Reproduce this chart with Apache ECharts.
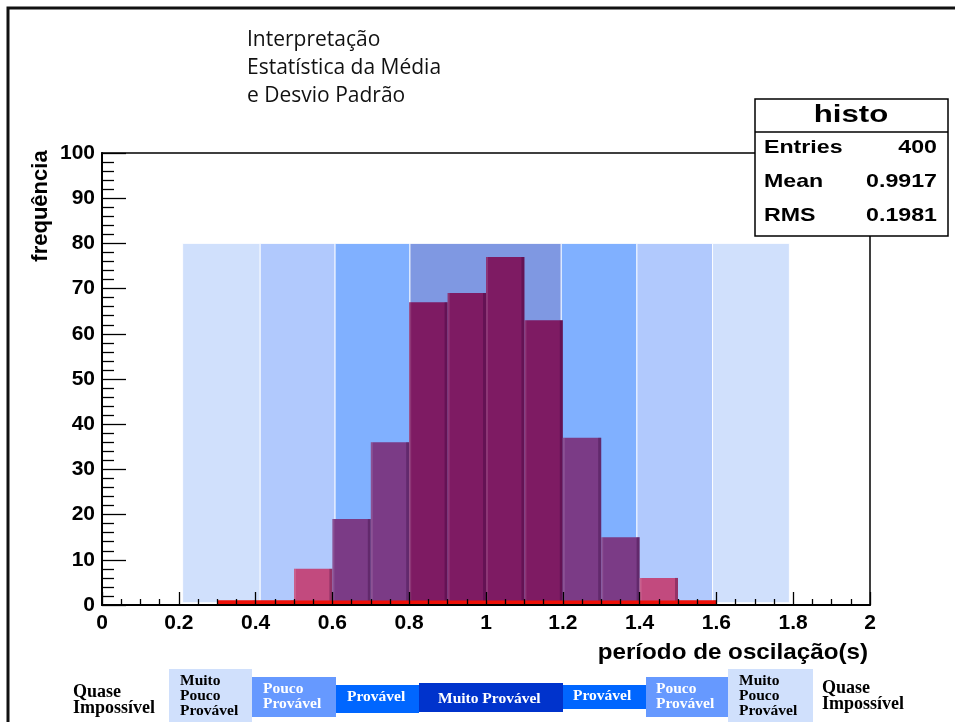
<!DOCTYPE html>
<html>
<head>
<meta charset="utf-8">
<script src="https://cdn.jsdelivr.net/npm/echarts@6/dist/echarts.min.js"></script>
<style>
html,body{margin:0;padding:0;background:#fff;}
#chart{width:955px;height:722px;}
</style>
</head>
<body>
<div id="chart"></div>
<script>
// ---------- data ----------
const xTickLabels = ['0','0.2','0.4','0.6','0.8','1','1.2','1.4','1.6','1.8','2'];
const yTickLabels = ['0','10','20','30','40','50','60','70','80','90','100'];
const binStarts = [0.3,0.4,0.5,0.6,0.7,0.8,0.9,1.0,1.1,1.2,1.3,1.4,1.5];
const binWidth = 0.1;
const counts = [1,1,8,19,36,67,69,77,63,37,15,6,1];
const bandEdges = [0.21,0.412,0.607,0.802,1.196,1.393,1.59,1.79];
const bandLevels = [0,1,2,3,2,1,0];
const bandTop = 80;
const underflowStrip = [0.3,1.6,1];
const titleLines = ['Interpretação','Estatística da Média','e Desvio Padrão'];
const statsTitle = 'histo';
const statsLabels = ['Entries','Mean','RMS'];
const statsValues = ['400','0.9917','0.1981'];
const xAxisTitle = 'período de oscilação(s)';
const yAxisTitle = 'frequência';
const scaleLabels = ['Quase\nImpossível','Muito\nPouco\nProvável','Pouco\nProvável','Provável','Muito Provável','Provável','Pouco\nProvável','Muito\nPouco\nProvável','Quase\nImpossível'];

// ---------- styles ----------
const bandColors = ['#d0e0fc','#b1c9fd','#80b0ff','#7f98e2'];
const barColors = ['#ee1008','#c24a7e','#7b3b86','#7e1b63'];
const stripColor = '#ee1008';

function bandIndexOf(x){
  for(let i=0;i<bandEdges.length-1;i++){ if(x>=bandEdges[i] && x<bandEdges[i+1]) return i; }
  return -1;
}
function barColor(i){
  if(counts[i] <= 1) return barColors[0];
  const b = bandIndexOf(binStarts[i] + binWidth/2);
  const lvl = b < 0 ? 0 : bandLevels[b];
  return barColors[Math.max(1,lvl)];
}

const bandData = bandLevels.map((l,i)=>[bandEdges[i], bandEdges[i+1], bandTop, l]);
const histData = binStarts.map((s,i)=>[s, s+binWidth, counts[i], i]);

const chart = echarts.init(document.getElementById('chart'), null, {renderer:'canvas'});

const AX = '"Liberation Sans", Arial, Helvetica, sans-serif';
const SERIF = '"Liberation Serif", "Times New Roman", serif';

// graphic elements
const graphics = [];
graphics.push({type:'polyline', shape:{points:[[8,722],[8,8],[955,8]]}, style:{stroke:'#111', lineWidth:3, fill:null}, z:100});
titleLines.forEach((t,i)=>{
  graphics.push({type:'text', x:247, y:40.5+i*28, style:{text:t, font:'21px "Open Sans", "Noto Sans", sans-serif', fill:'#111', align:'left', verticalAlign:'middle'}, z:100});
});
graphics.push({type:'text', x:41, y:206, rotation:Math.PI/2, style:{text:yAxisTitle, font:'bold 22px '+AX, fill:'#000', align:'center', verticalAlign:'middle'}, z:100});
graphics.push({type:'text', x:868, y:653, scaleX:1.1, style:{text:xAxisTitle, font:'bold 22px '+AX, fill:'#000', align:'right', verticalAlign:'middle'}, z:100});
// stats box
graphics.push({type:'rect', shape:{x:755, y:99, width:193, height:137}, style:{fill:'#fff', stroke:'#000', lineWidth:1.5}, z:100});
graphics.push({type:'line', shape:{x1:755, y1:132, x2:948, y2:132}, style:{stroke:'#000', lineWidth:1.5}, z:101});
graphics.push({type:'text', x:851, y:115, scaleX:1.3, style:{text:statsTitle, font:'bold 24px '+AX, fill:'#000', align:'center', verticalAlign:'middle'}, z:101});
statsLabels.forEach((l,i)=>{
  const y = 148 + i*34;
  graphics.push({type:'text', x:764, y:y, scaleX:1.22, style:{text:l, font:'bold 19px '+AX, fill:'#000', align:'left', verticalAlign:'middle'}, z:101});
  graphics.push({type:'text', x:937, y:y, scaleX:1.22, style:{text:statsValues[i], font:'bold 19px '+AX, fill:'#000', align:'right', verticalAlign:'middle'}, z:101});
});
// bottom probability scale
const scaleBoxes = [
  {x0:null, x1:null, y0:0, y1:0, fill:null, tx:73, ty:700, color:'#000', lh:16, fs:18},
  {x0:169, x1:252, y0:669, y1:722, fill:'#d0e0fc', tx:180, ty:696, color:'#000', lh:15, fs:15.5},
  {x0:252, x1:336, y0:677, y1:717, fill:'#6699ff', tx:263, ty:696, color:'#fff', lh:15, fs:15.5},
  {x0:336, x1:419, y0:685, y1:713, fill:'#0066ff', tx:347, ty:697, color:'#fff', lh:15, fs:15.5},
  {x0:419, x1:563, y0:683, y1:712, fill:'#0033cc', tx:438, ty:699, color:'#fff', lh:15, fs:15.5},
  {x0:563, x1:646, y0:685, y1:709, fill:'#0066ff', tx:573, ty:696, color:'#fff', lh:15, fs:15.5},
  {x0:646, x1:728, y0:677, y1:717, fill:'#6699ff', tx:656, ty:696, color:'#fff', lh:15, fs:15.5},
  {x0:728, x1:813, y0:669, y1:722, fill:'#d0e0fc', tx:739, ty:696, color:'#000', lh:15, fs:15.5},
  {x0:null, x1:null, y0:0, y1:0, fill:null, tx:822, ty:696, color:'#000', lh:16, fs:18}
];
scaleBoxes.forEach((b,i)=>{
  if(b.fill){
    graphics.push({type:'rect', shape:{x:b.x0, y:b.y0, width:b.x1-b.x0, height:b.y1-b.y0}, style:{fill:b.fill}, z:100});
  }
  graphics.push({type:'text', x:b.tx, y:b.ty, style:{text:scaleLabels[i], font:'bold '+b.fs+'px '+SERIF, fill:b.color, align:'left', verticalAlign:'middle', lineHeight:b.lh}, z:101});
});

const option = {
  animation:false,
  backgroundColor:'#fff',
  grid:{left:102, right:85, top:153, bottom:117, show:true, borderColor:'#000', borderWidth:1.5, backgroundColor:'transparent'},
  xAxis:{
    type:'value', min:0, max:2, interval:0.2, z:10,
    axisLine:{show:true, onZero:false, lineStyle:{color:'#000', width:2}},
    axisTick:{show:true, inside:true, length:13, lineStyle:{color:'#000', width:1.3}},
    minorTick:{show:true, splitNumber:4, length:6, lineStyle:{color:'#000', width:1.3}},
    splitLine:{show:false},
    axisLabel:{margin:8, color:'#000', fontFamily:'Liberation Sans', fontWeight:'bold', fontSize:21,
      formatter:(v)=>xTickLabels[Math.round(v/0.2)]}
  },
  yAxis:{
    type:'value', min:0, max:100, interval:10, z:10,
    axisLine:{show:true, lineStyle:{color:'#000', width:2}},
    axisTick:{show:true, inside:true, length:24, lineStyle:{color:'#000', width:1.3}},
    minorTick:{show:true, splitNumber:5, length:12, lineStyle:{color:'#000', width:1.3}},
    splitLine:{show:false},
    axisLabel:{margin:7, color:'#000', fontFamily:'Liberation Sans', fontWeight:'bold', fontSize:21,
      formatter:(v)=>yTickLabels[Math.round(v/10)]}
  },
  series:[
    {
      type:'custom', name:'bands', z:1, silent:true,
      data:bandData, encode:{x:[0,1], y:2},
      renderItem:(params, api)=>{
        const p0 = api.coord([api.value(0), 0.5]);
        const p1 = api.coord([api.value(1), api.value(2)]);
        return {type:'rect', shape:{x:p0[0], y:p1[1], width:p1[0]-p0[0], height:p0[1]-p1[1]},
          style:{fill:bandColors[api.value(3)], stroke:'rgba(255,255,255,0.85)', lineWidth:1}};
      }
    },
    {
      type:'custom', name:'histo', z:2, silent:true,
      data:histData, encode:{x:[0,1], y:2},
      renderItem:(params, api)=>{
        const p0 = api.coord([api.value(0), 0]);
        const p1 = api.coord([api.value(1), api.value(2)]);
        const w = p1[0]-p0[0], h = p0[1]-p1[1];
        const c = barColor(api.value(3));
        return {type:'group', children:[
          {type:'rect', shape:{x:p0[0], y:p1[1], width:w, height:h}, style:{fill:c}},
          {type:'rect', shape:{x:p0[0], y:p1[1], width:2, height:h}, style:{fill:'rgba(255,255,255,0.12)'}},
          {type:'rect', shape:{x:p1[0]-3, y:p1[1], width:3, height:h}, style:{fill:'rgba(40,0,50,0.3)'}}
        ]};
      }
    },
    {
      type:'custom', name:'underflow', z:3, silent:true,
      data:[underflowStrip], encode:{x:[0,1], y:2},
      renderItem:(params, api)=>{
        const p0 = api.coord([api.value(0), 0]);
        const p1 = api.coord([api.value(1), api.value(2)]);
        return {type:'rect', shape:{x:p0[0], y:p1[1], width:p1[0]-p0[0], height:p0[1]-p1[1]}, style:{fill:stripColor}};
      }
    }
  ],
  graphic:graphics
};
chart.setOption(option);
</script>
</body>
</html>
